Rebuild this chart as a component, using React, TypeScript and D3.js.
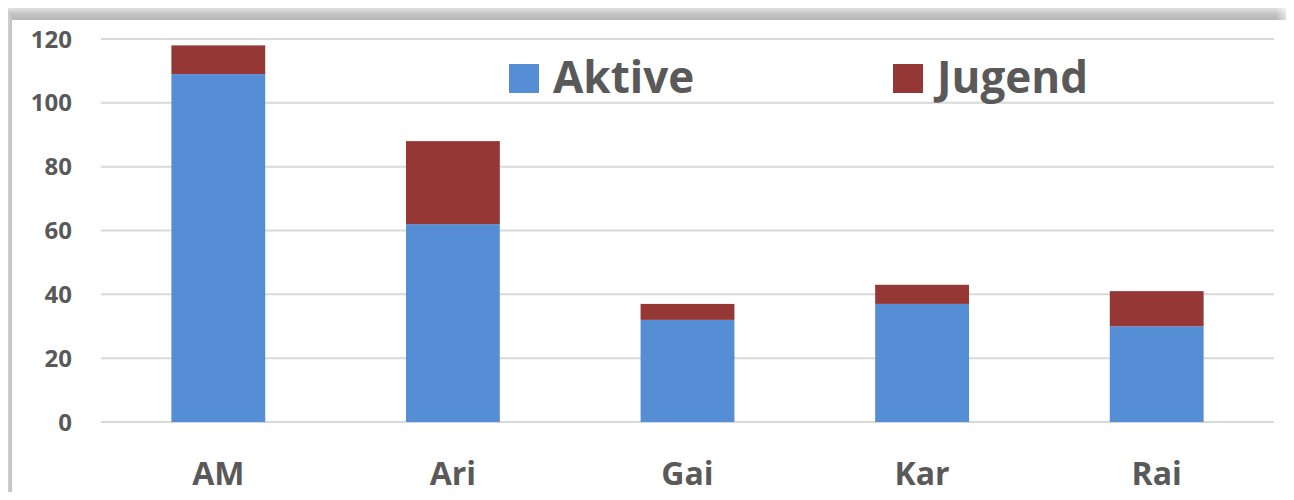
import React, { useEffect, useRef } from 'react';
import * as d3 from 'd3';

const categories = ['AM', 'Ari', 'Gai', 'Kar', 'Rai'];
const aktive = [109, 62, 32, 37, 30];
const jugend = [9, 26, 5, 6, 11];
const seriesNames = ['Aktive', 'Jugend'];
const yTicks = [0, 20, 40, 60, 80, 100, 120];

const colors = ['#558ED5', '#953735'];
const textColor = '#595959';
const font = '"Open Sans", Lato, sans-serif';

const App: React.FC = () => {
  const ref = useRef<SVGSVGElement | null>(null);
  const width = 1294;
  const height = 500;

  useEffect(() => {
    if (!ref.current) return;
    const svg = d3.select(ref.current);
    svg.selectAll('*').remove();

    // frame: shadow bands on top and left
    const defs = svg.append('defs');
    const topGrad = defs.append('linearGradient').attr('id', 'topGrad').attr('x1', 0).attr('y1', 0).attr('x2', 0).attr('y2', 1);
    topGrad.append('stop').attr('offset', '0%').attr('stop-color', '#f2f2f2');
    topGrad.append('stop').attr('offset', '40%').attr('stop-color', '#e2e2e2');
    topGrad.append('stop').attr('offset', '70%').attr('stop-color', '#c4c4c4');
    topGrad.append('stop').attr('offset', '100%').attr('stop-color', '#b6b6b6');
    const leftGrad = defs.append('linearGradient').attr('id', 'leftGrad').attr('x1', 0).attr('y1', 0).attr('x2', 1).attr('y2', 0);
    leftGrad.append('stop').attr('offset', '0%').attr('stop-color', '#ececec');
    leftGrad.append('stop').attr('offset', '50%').attr('stop-color', '#d6d6d6');
    leftGrad.append('stop').attr('offset', '100%').attr('stop-color', '#c2c2c2');
    const fadeGrad = defs.append('linearGradient').attr('id', 'fadeGrad').attr('x1', 0).attr('y1', 0).attr('x2', 1).attr('y2', 0);
    fadeGrad.append('stop').attr('offset', '0%').attr('stop-color', '#ffffff').attr('stop-opacity', 0);
    fadeGrad.append('stop').attr('offset', '100%').attr('stop-color', '#ffffff').attr('stop-opacity', 1);

    svg.append('rect').attr('width', width).attr('height', height).attr('fill', '#ffffff');
    svg.append('rect').attr('x', 0).attr('y', 0).attr('width', width).attr('height', 20).attr('fill', 'url(#topGrad)');
    svg.append('rect').attr('x', 1276).attr('y', 0).attr('width', 18).attr('height', 20).attr('fill', 'url(#fadeGrad)');
    svg.append('rect').attr('x', 0).attr('y', 12).attr('width', 12).attr('height', height - 12).attr('fill', 'url(#leftGrad)');

    const margin = { top: 39, right: 20, bottom: 78, left: 101 };
    const innerW = width - margin.left - margin.right;
    const innerH = height - margin.top - margin.bottom;

    const g = svg.append('g').attr('transform', `translate(${margin.left},${margin.top})`);

    const x = d3.scaleBand<string>().domain(categories).range([0, innerW]).paddingInner(0.6).paddingOuter(0.3);
    const y = d3.scaleLinear().domain([0, 120]).range([innerH, 0]);

    // gridlines
    g.selectAll('line.grid')
      .data(yTicks)
      .enter()
      .append('line')
      .attr('x1', 0)
      .attr('x2', innerW)
      .attr('y1', (d) => y(d))
      .attr('y2', (d) => y(d))
      .attr('stroke', '#d9d9d9')
      .attr('stroke-width', 2);

    // y tick labels
    g.selectAll('text.ytick')
      .data(yTicks)
      .enter()
      .append('text')
      .attr('x', -29)
      .attr('y', (d) => y(d))
      .attr('dy', '0.36em')
      .attr('text-anchor', 'end')
      .attr('font-family', font)
      .attr('font-weight', 700)
      .attr('font-size', 24)
      .attr('fill', textColor)
      .text((d) => d);

    // stacked bars
    const table = categories.map((c, i) => ({ cat: c, Aktive: aktive[i], Jugend: jugend[i] }));
    const stack = d3.stack<any>().keys(seriesNames)(table);
    stack.forEach((layer, li) => {
      g.selectAll(`rect.s${li}`)
        .data(layer)
        .enter()
        .append('rect')
        .attr('x', (d: any) => x(d.data.cat) as number)
        .attr('width', x.bandwidth())
        .attr('y', (d) => y(d[1]))
        .attr('height', (d) => y(d[0]) - y(d[1]))
        .attr('fill', colors[li]);
    });

    // x labels
    g.selectAll('text.xlab')
      .data(categories)
      .enter()
      .append('text')
      .attr('x', (d) => (x(d) as number) + x.bandwidth() / 2)
      .attr('y', innerH + 63)
      .attr('text-anchor', 'middle')
      .attr('font-family', font)
      .attr('font-weight', 700)
      .attr('font-size', 32)
      .attr('fill', textColor)
      .text((d) => d);

    // legend
    const legendX = [509, 893];
    seriesNames.forEach((name, i) => {
      const lg = svg.append('g').attr('transform', `translate(${legendX[i]},64)`);
      lg.append('rect').attr('width', 30).attr('height', 29).attr('fill', colors[i]);
      lg.append('text')
        .attr('x', 44)
        .attr('y', 29)
        .attr('font-family', font)
        .attr('font-weight', 700)
        .attr('font-size', 44)
        .attr('fill', textColor)
        .style('font-variant-ligatures', 'none')
        .text(name);
    });
  }, []);

  return <svg ref={ref} width={width} height={height} style={{ display: 'block', margin: -8 }}></svg>;
};

export default App;
